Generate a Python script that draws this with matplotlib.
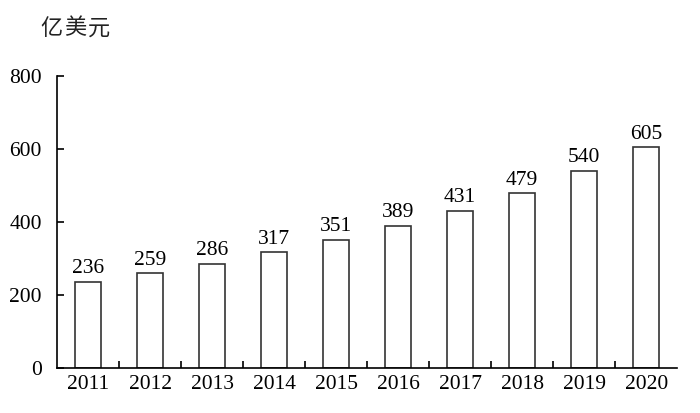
import matplotlib
matplotlib.use("Agg")
import matplotlib.pyplot as plt
import numpy as np

# 数据
years = ["2011", "2012", "2013", "2014", "2015", "2016", "2017", "2018", "2019", "2020"]
values = [236, 259, 286, 317, 351, 389, 431, 479, 540, 605]
y_ticks = [0, 200, 400, 600, 800]
unit_label = "亿美元"

plt.rcParams['font.family'] = ['Liberation Serif', 'Noto Sans CJK SC']

fig = plt.figure(figsize=(7, 4.13), dpi=100)
ax = fig.add_axes([0.0814, 0.109, 0.886, 0.707])

x = np.arange(len(years))
ax.bar(x, values, width=0.42, facecolor='white', edgecolor='#333333', linewidth=1.2)

for xi, v in zip(x, values):
    ax.text(xi, v + 10, str(v), ha='center', va='bottom', fontsize=15.5)

ax.set_xlim(-0.5, len(years) - 0.5)
ax.set_ylim(0, 800)
ax.set_yticks(y_ticks)
ax.set_yticklabels([str(t) for t in y_ticks], fontsize=15.5)

# x轴: 标签在类别中心, 刻度在类别边界
ax.set_xticks(x)
ax.set_xticklabels(years, fontsize=15.5)
ax.tick_params(axis='x', length=0, pad=5)
ax.set_xticks(np.arange(0.5, len(years) - 0.5), minor=True)
ax.tick_params(axis='x', which='minor', direction='in', length=5, width=1.2)
ax.tick_params(axis='y', direction='in', length=5, width=1.2, pad=11)

ax.spines['top'].set_visible(False)
ax.spines['right'].set_visible(False)
ax.spines['left'].set_linewidth(1.2)
ax.spines['bottom'].set_linewidth(1.2)

# 单位标签, 字间距稍宽
for i, ch in enumerate(unit_label):
    fig.text(0.057 + i * 0.0343, 0.932, ch, fontsize=16, family='Noto Sans CJK SC',
             fontweight='light', va='center', color='#222222')

fig.savefig("out.png", dpi=100)
